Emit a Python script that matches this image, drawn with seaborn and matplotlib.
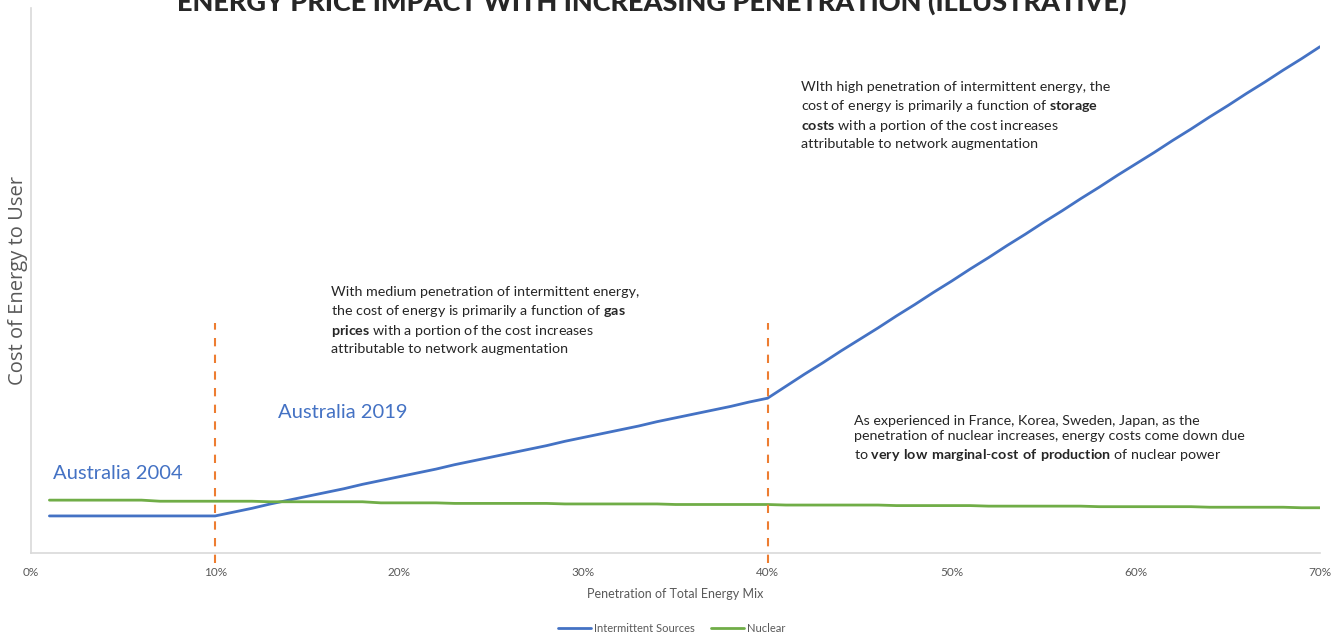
import matplotlib
matplotlib.use("Agg")
import matplotlib.pyplot as plt
import seaborn as sns
import pandas as pd

# Penetration of total energy mix (%)
penetration = list(range(1, 71))

# Relative cost of energy to the user (illustrative units)
intermittent = [
    6.8, 6.8, 6.8, 6.8, 6.8, 6.8, 6.8, 6.8, 6.8, 6.8,
    7.5, 8.2, 9.0, 9.7, 10.4, 11.1, 11.8, 12.6, 13.3, 14.0,
    14.7, 15.4, 16.2, 16.9, 17.6, 18.3, 19.0, 19.7, 20.5, 21.2,
    21.9, 22.6, 23.3, 24.1, 24.8, 25.5, 26.2, 26.9, 27.7, 28.4,
    30.6, 32.8, 34.9, 37.1, 39.2, 41.3, 43.5, 45.6, 47.8, 49.9,
    52.1, 54.2, 56.4, 58.5, 60.7, 62.8, 65.0, 67.1, 69.3, 71.4,
    73.5, 75.7, 77.8, 80.0, 82.1, 84.3, 86.4, 88.6, 90.7, 92.9,
]
nuclear = [
    9.7, 9.7, 9.7, 9.7, 9.7, 9.7, 9.5, 9.5, 9.5, 9.5,
    9.5, 9.5, 9.4, 9.4, 9.4, 9.4, 9.4, 9.4, 9.2, 9.2,
    9.2, 9.2, 9.1, 9.1, 9.1, 9.1, 9.1, 9.1, 9.0, 9.0,
    9.0, 9.0, 9.0, 9.0, 8.9, 8.9, 8.9, 8.9, 8.9, 8.9,
    8.8, 8.8, 8.8, 8.8, 8.8, 8.8, 8.7, 8.7, 8.7, 8.7,
    8.7, 8.6, 8.6, 8.6, 8.6, 8.6, 8.6, 8.5, 8.5, 8.5,
    8.5, 8.5, 8.5, 8.4, 8.4, 8.4, 8.4, 8.4, 8.3, 8.3,
]
series_names = ["Intermittent Sources", "Nuclear"]
series_colors = ["#4472C4", "#70AD47"]

# Transition points between penetration regimes (%)
regime_marks = [10, 40]
x_ticks = [0, 10, 20, 30, 40, 50, 60, 70]

df = pd.DataFrame({
    "Penetration": penetration * 2,
    "Cost": intermittent + nuclear,
    "Source": [series_names[0]] * len(penetration) + [series_names[1]] * len(penetration),
})

sns.set_theme(style="white")
plt.rcParams["font.family"] = ["Lato", "DejaVu Sans"]
plt.rcParams["mathtext.fontset"] = "custom"
plt.rcParams["mathtext.rm"] = "Lato"
plt.rcParams["mathtext.bf"] = "Lato:bold"

fig = plt.figure(figsize=(13.43, 6.33), dpi=100)
ax = fig.add_axes([31 / 1343, 80 / 633, 1289 / 1343, 545 / 633])

sns.lineplot(data=df, x="Penetration", y="Cost", hue="Source",
             palette=series_colors, linewidth=2.0, ax=ax, legend=False)

ax.set_xlim(0, 70)
ax.set_ylim(0, 100)
ax.set_xticks(x_ticks)
ax.set_xticklabels([f"{t}%" for t in x_ticks], fontsize=8.5, color="#595959")
ax.set_yticks([])
ax.tick_params(axis="x", length=0, pad=10)
for side in ["top", "right"]:
    ax.spines[side].set_visible(False)
for side in ["left", "bottom"]:
    ax.spines[side].set_color("#D9D9D9")
    ax.spines[side].set_linewidth(1.2)

ax.set_xlabel("Penetration of Total Energy Mix", fontsize=9, color="#595959", labelpad=7)
ax.set_ylabel("Cost of Energy to User", fontsize=14.5, color="#595959", labelpad=2,
              family=["Open Sans", "DejaVu Sans"])

for xm in regime_marks:
    ax.plot([xm, xm], [-1.8, 42.2], color="#ED7D31", linestyle=(0, (4, 4)),
            linewidth=1.5, clip_on=False, zorder=3)

ax.text(1.2, 14.6, "Australia 2004", color="#4472C4", fontsize=14.5, va="center")
ax.text(13.4, 25.8, "Australia 2019", color="#4472C4", fontsize=14.5, va="center")

text_kw = dict(fontsize=10.3, color="#262626", va="top", linespacing=1.38)
ax.text(16.3, 49.0,
        "With medium penetration of intermittent energy,\n"
        "the cost of energy is primarily a function of $\\mathbf{gas}$\n"
        "$\\mathbf{prices}$ with a portion of the cost increases\n"
        "attributable to network augmentation", **text_kw)
ax.text(41.8, 86.6,
        "WIth high penetration of intermittent energy, the\n"
        "cost of energy is primarily a function of $\\mathbf{storage}$\n"
        "$\\mathbf{costs}$ with a portion of the cost increases\n"
        "attributable to network augmentation", **text_kw)
ax.text(44.7, 25.4,
        "As experienced in France, Korea, Sweden, Japan, as the\n"
        "penetration of nuclear increases, energy costs come down due\n"
        "to $\\mathbf{very\\ low\\ marginal}$-$\\mathbf{cost\\ of\\ production}$ of nuclear power",
        **text_kw)

fig.text(0.485, 0.997, "ENERGY PRICE IMPACT WITH INCREASING PENETRATION (ILLUSTRATIVE)",
         ha="center", va="center", fontsize=19.5, fontweight="black", color="#262626")

handles = [plt.Line2D([], [], color=c, linewidth=2) for c in series_colors]
fig.legend(handles, series_names, loc="center", bbox_to_anchor=(0.5, 5 / 633),
           ncol=2, frameon=False, fontsize=8, handlelength=3, handletextpad=0.2,
           columnspacing=1.5, labelcolor="#595959")

fig.savefig("out.png", dpi=100)
